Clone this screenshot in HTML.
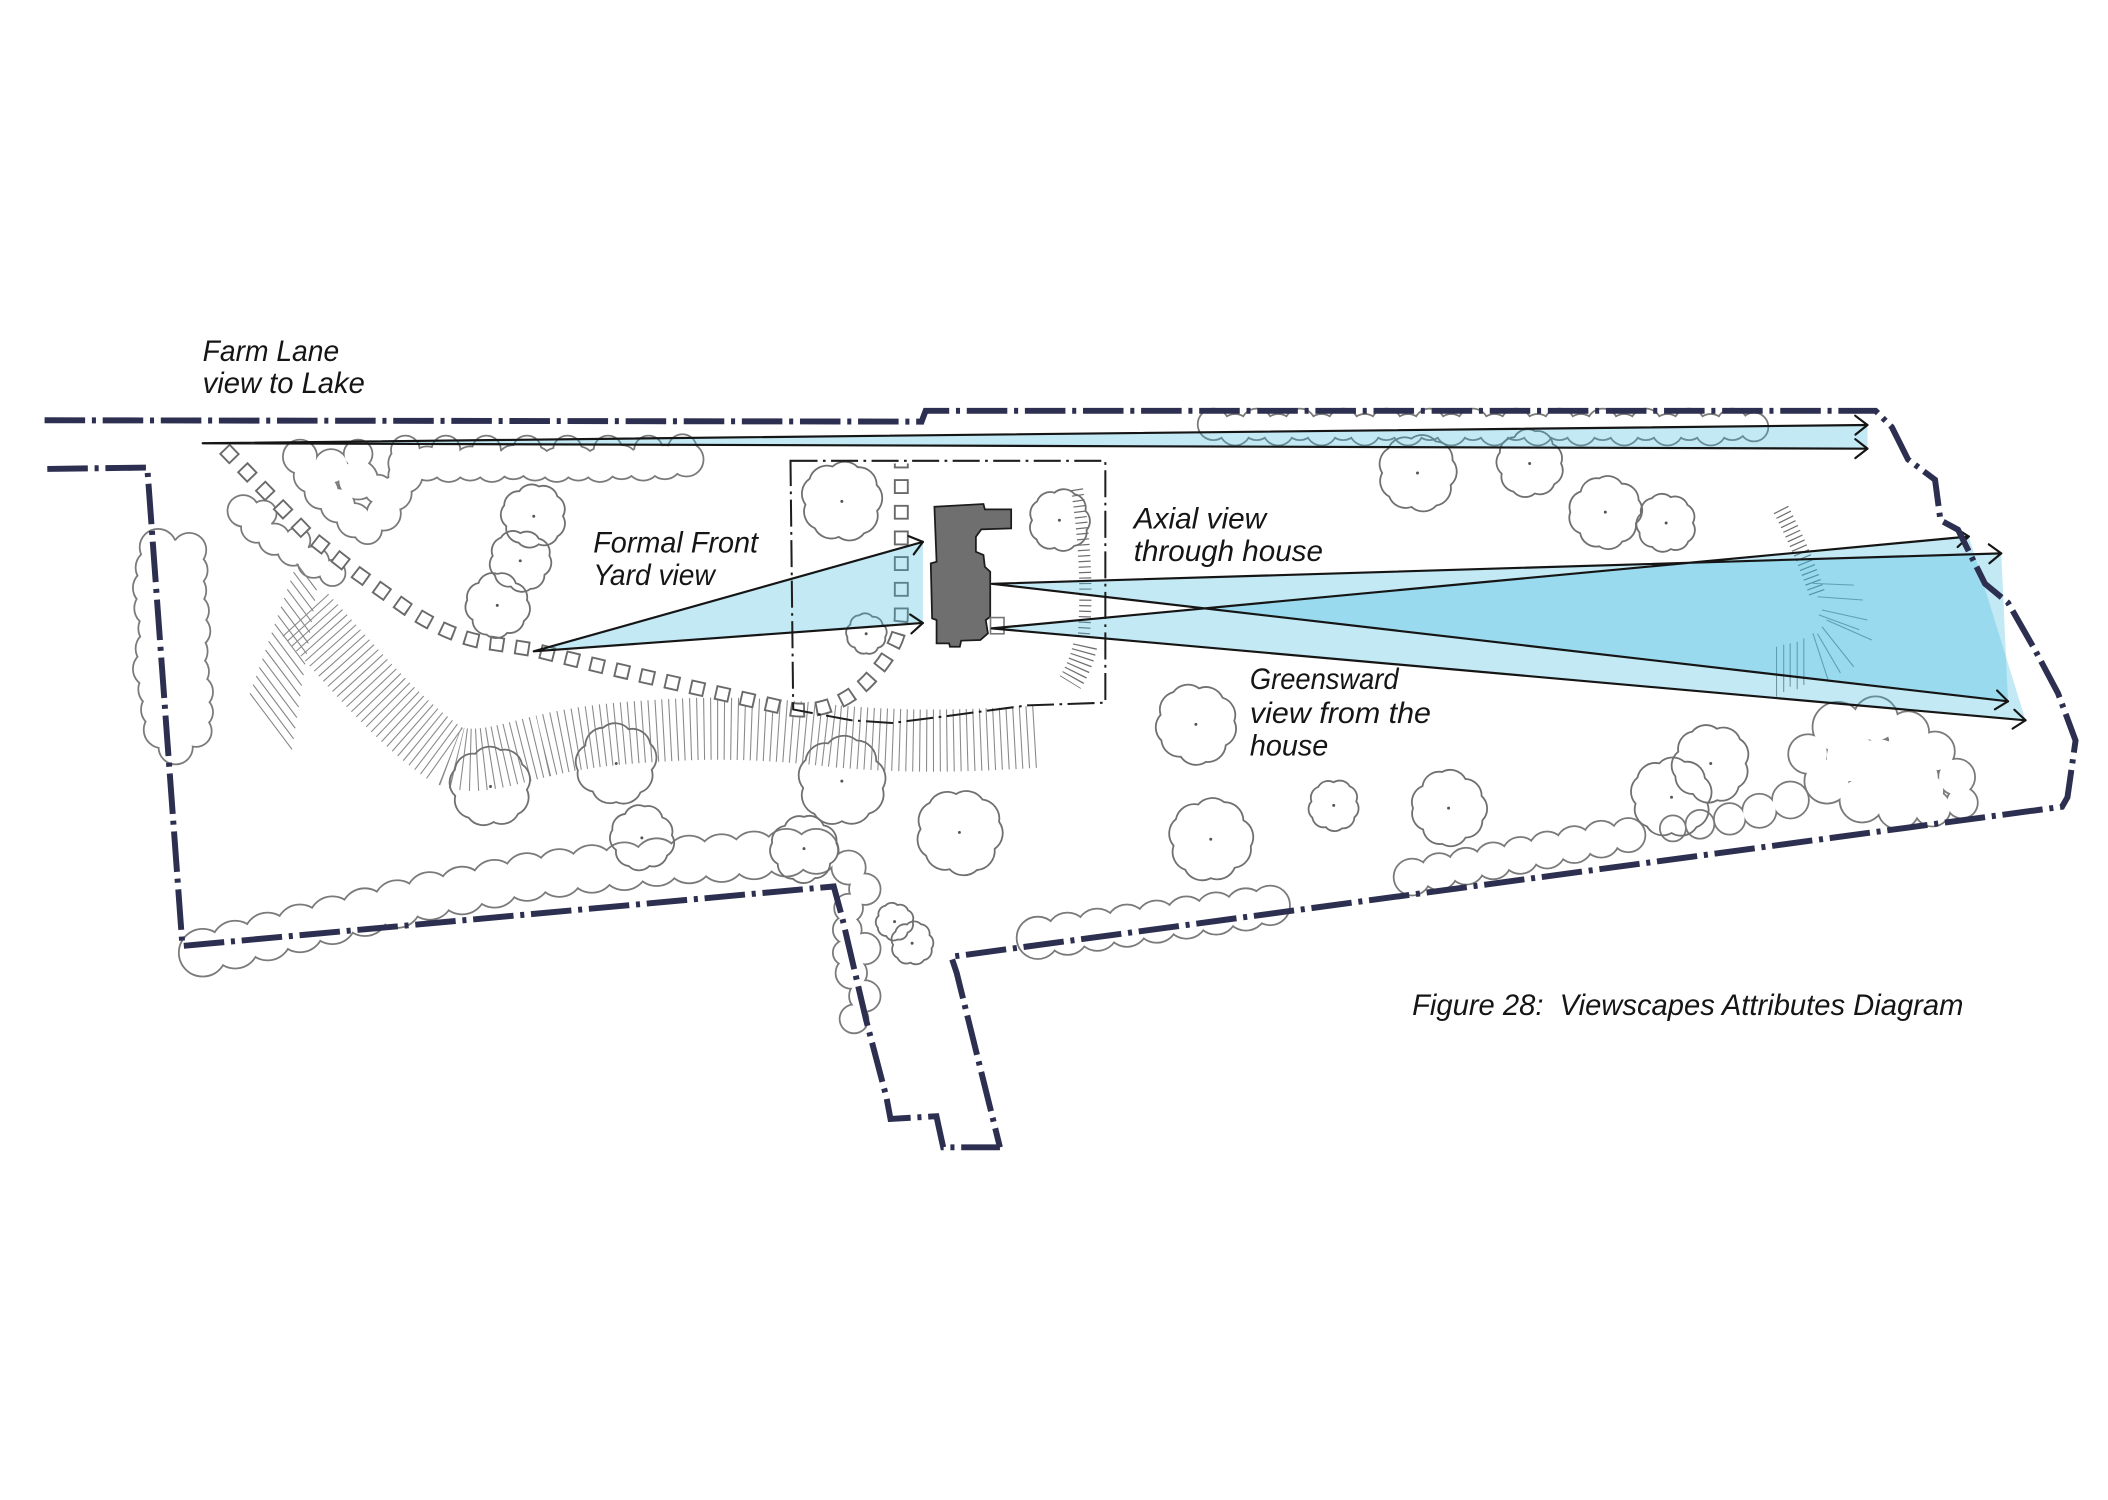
<!DOCTYPE html>
<html>
<head>
<meta charset="utf-8">
<style>
html,body{margin:0;padding:0;background:#fff;overflow:hidden;}
svg{display:block;}
</style>
</head>
<body>
<svg width="2108" height="1500" viewBox="0 0 1560 1110" preserveAspectRatio="none" xmlns="http://www.w3.org/2000/svg" xmlns:xlink="http://www.w3.org/1999/xlink">
<defs>
  <path id="tr" vector-effect="non-scaling-stroke" d="M9,0 A4.5,4.5 0 0 1 7.35,6.17 A4.5,4.5 0 0 1 1.53,8.67 A4.5,4.5 0 0 1 -4.7,8.14 A4.5,4.5 0 0 1 -8.46,3.08 A4.5,4.5 0 0 1 -9.12,-3.32 A4.5,4.5 0 0 1 -4.45,-7.71 A4.5,4.5 0 0 1 1.62,-9.16 A4.5,4.5 0 0 1 7.28,-6.11 A4.5,4.5 0 0 1 9,0 Z"/>
</defs>

<rect x="0" y="0" width="1560" height="1110" fill="#fff"/>

<!-- hedges pass 1: strokes -->
<g fill="none" stroke="#7a7a7a" stroke-width="2.6">
    <circle cx="300" cy="343" r="12"/><circle cx="316" cy="343" r="12"/><circle cx="332" cy="344" r="12"/>
    <circle cx="348" cy="343" r="12"/><circle cx="364" cy="344" r="12"/><circle cx="380" cy="342" r="12"/>
    <circle cx="396" cy="343" r="12"/><circle cx="412" cy="344" r="12"/><circle cx="428" cy="343" r="12"/>
    <circle cx="444" cy="344" r="12"/><circle cx="460" cy="342" r="12"/><circle cx="476" cy="343" r="12"/>
    <circle cx="492" cy="342" r="12"/><circle cx="508" cy="340" r="12"/>
    <circle cx="300" cy="333" r="10"/><circle cx="330" cy="333" r="10"/><circle cx="360" cy="333" r="10"/>
    <circle cx="390" cy="333" r="10"/><circle cx="420" cy="333" r="10"/><circle cx="450" cy="333" r="10"/>
    <circle cx="480" cy="333" r="10"/><circle cx="505" cy="332" r="10"/>
    <circle cx="222" cy="338" r="12"/><circle cx="230" cy="352" r="12"/><circle cx="238" cy="364" r="12"/>
    <circle cx="250" cy="374" r="12"/><circle cx="262" cy="385" r="12"/><circle cx="272" cy="392" r="10"/>
    <circle cx="284" cy="380" r="12"/><circle cx="292" cy="365" r="12"/><circle cx="300" cy="352" r="12"/>
    <circle cx="245" cy="345" r="12"/><circle cx="265" cy="355" r="14"/><circle cx="280" cy="362" r="10"/>
    <circle cx="265" cy="336" r="10"/>
    <circle cx="180" cy="378" r="11"/><circle cx="190" cy="390" r="11"/><circle cx="203" cy="399" r="11"/>
    <circle cx="217" cy="407" r="11"/><circle cx="232" cy="416" r="11"/><circle cx="246" cy="424" r="9"/>
    <circle cx="195" cy="380" r="9"/><circle cx="220" cy="400" r="9"/>
    <circle cx="117" cy="405" r="13"/><circle cx="140" cy="407" r="12"/>
    <circle cx="114" cy="420" r="13"/><circle cx="141" cy="422" r="12"/>
    <circle cx="112" cy="435" r="13"/><circle cx="139" cy="437" r="13"/>
    <circle cx="113" cy="450" r="13"/><circle cx="142" cy="452" r="12"/>
    <circle cx="116" cy="465" r="13"/><circle cx="143" cy="467" r="12"/>
    <circle cx="114" cy="480" r="13"/><circle cx="140" cy="482" r="13"/>
    <circle cx="112" cy="495" r="13"/><circle cx="142" cy="497" r="12"/>
    <circle cx="116" cy="510" r="13"/><circle cx="145" cy="512" r="12"/>
    <circle cx="118" cy="525" r="13"/><circle cx="146" cy="527" r="11"/>
    <circle cx="120" cy="540" r="13"/><circle cx="145" cy="541" r="11"/>
    <circle cx="130" cy="553" r="12"/>
    <circle cx="128" cy="412" r="12"/><circle cx="128" cy="428" r="12"/><circle cx="127" cy="444" r="12"/>
    <circle cx="128" cy="460" r="12"/><circle cx="128" cy="476" r="12"/><circle cx="127" cy="492" r="12"/>
    <circle cx="130" cy="508" r="12"/><circle cx="132" cy="524" r="12"/><circle cx="132" cy="540" r="12"/>
    <circle cx="150" cy="705" r="17"/><circle cx="174" cy="699" r="17"/><circle cx="198" cy="693" r="17"/>
    <circle cx="222" cy="687" r="17"/><circle cx="246" cy="681" r="17"/><circle cx="270" cy="675" r="17"/>
    <circle cx="294" cy="669" r="17"/><circle cx="318" cy="663" r="17"/><circle cx="342" cy="659" r="17"/>
    <circle cx="366" cy="654" r="17"/><circle cx="390" cy="649" r="17"/><circle cx="414" cy="646" r="17"/>
    <circle cx="438" cy="643" r="17"/><circle cx="462" cy="641" r="17"/><circle cx="486" cy="638" r="17"/>
    <circle cx="510" cy="636" r="17"/><circle cx="534" cy="635" r="17"/><circle cx="558" cy="633" r="17"/>
    <circle cx="582" cy="631" r="17"/><circle cx="604" cy="630" r="16"/>
    <circle cx="768" cy="694" r="15"/><circle cx="790" cy="691" r="15"/><circle cx="812" cy="688" r="15"/>
    <circle cx="834" cy="685" r="15"/><circle cx="856" cy="682" r="15"/><circle cx="878" cy="679" r="15"/>
    <circle cx="900" cy="676" r="15"/><circle cx="922" cy="673" r="15"/><circle cx="940" cy="670" r="14"/>
    <circle cx="1045" cy="649" r="13"/><circle cx="1065" cy="645" r="13"/><circle cx="1085" cy="641" r="13"/>
    <circle cx="1105" cy="637" r="13"/><circle cx="1125" cy="633" r="13"/><circle cx="1145" cy="629" r="13"/>
    <circle cx="1165" cy="625" r="13"/><circle cx="1185" cy="621" r="13"/><circle cx="1205" cy="618" r="12"/>
    <circle cx="1360" cy="538" r="18"/><circle cx="1388" cy="532" r="16"/><circle cx="1412" cy="542" r="15"/>
    <circle cx="1432" cy="556" r="14"/><circle cx="1448" cy="575" r="13"/><circle cx="1452" cy="594" r="11"/>
    <circle cx="1430" cy="598" r="13"/><circle cx="1405" cy="598" r="15"/><circle cx="1378" cy="592" r="16"/>
    <circle cx="1352" cy="578" r="16"/><circle cx="1338" cy="558" r="14"/><circle cx="1325" cy="592" r="13"/>
    <circle cx="1302" cy="600" r="12"/><circle cx="1280" cy="606" r="11"/><circle cx="1258" cy="610" r="10"/>
    <circle cx="1238" cy="613" r="9"/><circle cx="1390" cy="565" r="18"/><circle cx="1420" cy="575" r="14"/>
    <circle cx="1400" cy="575" r="20"/><circle cx="1370" cy="560" r="18"/><circle cx="1425" cy="585" r="13"/>
    <circle cx="1410" cy="555" r="14"/>
    <circle cx="898" cy="314" r="11"/><circle cx="914" cy="318" r="11"/><circle cx="930" cy="314" r="11"/>
    <circle cx="946" cy="318" r="11"/><circle cx="962" cy="314" r="11"/><circle cx="978" cy="318" r="11"/>
    <circle cx="994" cy="314" r="11"/><circle cx="1010" cy="318" r="11"/><circle cx="1026" cy="314" r="11"/>
    <circle cx="1042" cy="318" r="11"/><circle cx="1058" cy="314" r="11"/><circle cx="1074" cy="318" r="11"/>
    <circle cx="1090" cy="314" r="11"/><circle cx="1106" cy="318" r="11"/><circle cx="1122" cy="314" r="11"/>
    <circle cx="1138" cy="318" r="11"/><circle cx="1154" cy="314" r="11"/><circle cx="1170" cy="318" r="11"/>
    <circle cx="1186" cy="314" r="11"/><circle cx="1202" cy="318" r="11"/><circle cx="1218" cy="314" r="11"/>
    <circle cx="1234" cy="318" r="11"/><circle cx="1250" cy="314" r="11"/><circle cx="1266" cy="318" r="11"/>
    <circle cx="1282" cy="314" r="11"/><circle cx="1298" cy="316" r="10"/>
    <circle cx="628" cy="642" r="12"/><circle cx="640" cy="658" r="11"/><circle cx="628" cy="672" r="10"/>
    <circle cx="627" cy="688" r="10"/><circle cx="640" cy="702" r="11"/><circle cx="630" cy="720" r="11"/>
    <circle cx="640" cy="737" r="11"/><circle cx="632" cy="754" r="10"/><circle cx="626" cy="705" r="9"/>
</g>
<!-- hedges pass 2: white fills hide interior arcs -->
<g fill="#ffffff" stroke="none">
    <circle cx="300" cy="343" r="12"/><circle cx="316" cy="343" r="12"/><circle cx="332" cy="344" r="12"/>
    <circle cx="348" cy="343" r="12"/><circle cx="364" cy="344" r="12"/><circle cx="380" cy="342" r="12"/>
    <circle cx="396" cy="343" r="12"/><circle cx="412" cy="344" r="12"/><circle cx="428" cy="343" r="12"/>
    <circle cx="444" cy="344" r="12"/><circle cx="460" cy="342" r="12"/><circle cx="476" cy="343" r="12"/>
    <circle cx="492" cy="342" r="12"/><circle cx="508" cy="340" r="12"/>
    <circle cx="300" cy="333" r="10"/><circle cx="330" cy="333" r="10"/><circle cx="360" cy="333" r="10"/>
    <circle cx="390" cy="333" r="10"/><circle cx="420" cy="333" r="10"/><circle cx="450" cy="333" r="10"/>
    <circle cx="480" cy="333" r="10"/><circle cx="505" cy="332" r="10"/>
    <circle cx="222" cy="338" r="12"/><circle cx="230" cy="352" r="12"/><circle cx="238" cy="364" r="12"/>
    <circle cx="250" cy="374" r="12"/><circle cx="262" cy="385" r="12"/><circle cx="272" cy="392" r="10"/>
    <circle cx="284" cy="380" r="12"/><circle cx="292" cy="365" r="12"/><circle cx="300" cy="352" r="12"/>
    <circle cx="245" cy="345" r="12"/><circle cx="265" cy="355" r="14"/><circle cx="280" cy="362" r="10"/>
    <circle cx="265" cy="336" r="10"/>
    <circle cx="180" cy="378" r="11"/><circle cx="190" cy="390" r="11"/><circle cx="203" cy="399" r="11"/>
    <circle cx="217" cy="407" r="11"/><circle cx="232" cy="416" r="11"/><circle cx="246" cy="424" r="9"/>
    <circle cx="195" cy="380" r="9"/><circle cx="220" cy="400" r="9"/>
    <circle cx="117" cy="405" r="13"/><circle cx="140" cy="407" r="12"/>
    <circle cx="114" cy="420" r="13"/><circle cx="141" cy="422" r="12"/>
    <circle cx="112" cy="435" r="13"/><circle cx="139" cy="437" r="13"/>
    <circle cx="113" cy="450" r="13"/><circle cx="142" cy="452" r="12"/>
    <circle cx="116" cy="465" r="13"/><circle cx="143" cy="467" r="12"/>
    <circle cx="114" cy="480" r="13"/><circle cx="140" cy="482" r="13"/>
    <circle cx="112" cy="495" r="13"/><circle cx="142" cy="497" r="12"/>
    <circle cx="116" cy="510" r="13"/><circle cx="145" cy="512" r="12"/>
    <circle cx="118" cy="525" r="13"/><circle cx="146" cy="527" r="11"/>
    <circle cx="120" cy="540" r="13"/><circle cx="145" cy="541" r="11"/>
    <circle cx="130" cy="553" r="12"/>
    <circle cx="128" cy="412" r="12"/><circle cx="128" cy="428" r="12"/><circle cx="127" cy="444" r="12"/>
    <circle cx="128" cy="460" r="12"/><circle cx="128" cy="476" r="12"/><circle cx="127" cy="492" r="12"/>
    <circle cx="130" cy="508" r="12"/><circle cx="132" cy="524" r="12"/><circle cx="132" cy="540" r="12"/>
    <circle cx="150" cy="705" r="17"/><circle cx="174" cy="699" r="17"/><circle cx="198" cy="693" r="17"/>
    <circle cx="222" cy="687" r="17"/><circle cx="246" cy="681" r="17"/><circle cx="270" cy="675" r="17"/>
    <circle cx="294" cy="669" r="17"/><circle cx="318" cy="663" r="17"/><circle cx="342" cy="659" r="17"/>
    <circle cx="366" cy="654" r="17"/><circle cx="390" cy="649" r="17"/><circle cx="414" cy="646" r="17"/>
    <circle cx="438" cy="643" r="17"/><circle cx="462" cy="641" r="17"/><circle cx="486" cy="638" r="17"/>
    <circle cx="510" cy="636" r="17"/><circle cx="534" cy="635" r="17"/><circle cx="558" cy="633" r="17"/>
    <circle cx="582" cy="631" r="17"/><circle cx="604" cy="630" r="16"/>
    <circle cx="768" cy="694" r="15"/><circle cx="790" cy="691" r="15"/><circle cx="812" cy="688" r="15"/>
    <circle cx="834" cy="685" r="15"/><circle cx="856" cy="682" r="15"/><circle cx="878" cy="679" r="15"/>
    <circle cx="900" cy="676" r="15"/><circle cx="922" cy="673" r="15"/><circle cx="940" cy="670" r="14"/>
    <circle cx="1045" cy="649" r="13"/><circle cx="1065" cy="645" r="13"/><circle cx="1085" cy="641" r="13"/>
    <circle cx="1105" cy="637" r="13"/><circle cx="1125" cy="633" r="13"/><circle cx="1145" cy="629" r="13"/>
    <circle cx="1165" cy="625" r="13"/><circle cx="1185" cy="621" r="13"/><circle cx="1205" cy="618" r="12"/>
    <circle cx="1360" cy="538" r="18"/><circle cx="1388" cy="532" r="16"/><circle cx="1412" cy="542" r="15"/>
    <circle cx="1432" cy="556" r="14"/><circle cx="1448" cy="575" r="13"/><circle cx="1452" cy="594" r="11"/>
    <circle cx="1430" cy="598" r="13"/><circle cx="1405" cy="598" r="15"/><circle cx="1378" cy="592" r="16"/>
    <circle cx="1352" cy="578" r="16"/><circle cx="1338" cy="558" r="14"/><circle cx="1325" cy="592" r="13"/>
    <circle cx="1302" cy="600" r="12"/><circle cx="1280" cy="606" r="11"/><circle cx="1258" cy="610" r="10"/>
    <circle cx="1238" cy="613" r="9"/><circle cx="1390" cy="565" r="18"/><circle cx="1420" cy="575" r="14"/>
    <circle cx="1400" cy="575" r="20"/><circle cx="1370" cy="560" r="18"/><circle cx="1425" cy="585" r="13"/>
    <circle cx="1410" cy="555" r="14"/>
    <circle cx="898" cy="314" r="11"/><circle cx="914" cy="318" r="11"/><circle cx="930" cy="314" r="11"/>
    <circle cx="946" cy="318" r="11"/><circle cx="962" cy="314" r="11"/><circle cx="978" cy="318" r="11"/>
    <circle cx="994" cy="314" r="11"/><circle cx="1010" cy="318" r="11"/><circle cx="1026" cy="314" r="11"/>
    <circle cx="1042" cy="318" r="11"/><circle cx="1058" cy="314" r="11"/><circle cx="1074" cy="318" r="11"/>
    <circle cx="1090" cy="314" r="11"/><circle cx="1106" cy="318" r="11"/><circle cx="1122" cy="314" r="11"/>
    <circle cx="1138" cy="318" r="11"/><circle cx="1154" cy="314" r="11"/><circle cx="1170" cy="318" r="11"/>
    <circle cx="1186" cy="314" r="11"/><circle cx="1202" cy="318" r="11"/><circle cx="1218" cy="314" r="11"/>
    <circle cx="1234" cy="318" r="11"/><circle cx="1250" cy="314" r="11"/><circle cx="1266" cy="318" r="11"/>
    <circle cx="1282" cy="314" r="11"/><circle cx="1298" cy="316" r="10"/>
    <circle cx="628" cy="642" r="12"/><circle cx="640" cy="658" r="11"/><circle cx="628" cy="672" r="10"/>
    <circle cx="627" cy="688" r="10"/><circle cx="640" cy="702" r="11"/><circle cx="630" cy="720" r="11"/>
    <circle cx="640" cy="737" r="11"/><circle cx="632" cy="754" r="10"/><circle cx="626" cy="705" r="9"/>
</g>

<!-- slope hatching -->
<g stroke="#858585" stroke-width="0.8" fill="none">
  <path d="M219.5,416.9 l14.8,19.8 M217.2,423.3 l15.9,21.2 M214.9,429.7 l17,22.6 M212.6,436.1 l18.1,24.1 M210.3,442.6 l19.1,25.5 M208,449 l20.2,27 M205.7,455.4 l21.3,28.4 M203.4,461.8 l22.4,29.8 M201.1,468.2 l23.5,31.3 M198.8,474.6 l24.5,32.7 M196.5,481 l25.7,34.2 M194.2,487.4 l26.8,35.7 M191.9,493.9 l27.8,37.1 M189.6,500.3 l28.9,38.6 M187.3,506.7 l30,40 M185,513.1 l31.1,41.4"/>
  <path d="M1351.7,458.8 L1385.2,473.6 M1348.3,463.8 L1371.8,493.4 M1341.6,468.7 L1353.3,504.5 M1334.9,472.4 L1334.9,506.9 M1324.8,476.1 L1324.8,508.2 M1314.7,478.6 L1314.7,515.6 M1348.3,451.4 L1381.9,458.8 M1345,441.6 L1378.5,444 M1341.6,431.7 L1371.8,433 M1346,455 L1376,466 M1345,469 L1362,498 M1330,475 L1330,510 M1320,477 L1320,512"/>
</g>
<path d="M226,455 C260,492 290,530 330,558 C350,568 375,558 402,552 C430,545 460,542 501,540 C540,538 580,540 620,545 C680,550 720,548 770,545" fill="none" stroke="#8a8a8a" stroke-width="46" stroke-dasharray="0.8 4.2"/>
<path d="M1318,377 Q1334,408 1345,440" fill="none" stroke="#6e6e6e" stroke-width="12" stroke-dasharray="0.9 3"/>
<path d="M797,362 Q806,420 802,472" fill="none" stroke="#6e6e6e" stroke-width="9" stroke-dasharray="0.9 3.2"/>
<path d="M803,478 Q800,492 792,505" fill="none" stroke="#6e6e6e" stroke-width="18" stroke-dasharray="0.9 3.2"/>

<!-- stepping-stone squares -->
<path d="M166,332 L227,395 L264,424 L302,451 C325,466 345,474 364,476 L396,481 C450,495 520,510 577,523 C600,530 625,522 643,503 C657,488 667,472 667,455 L667,343" fill="none" stroke="#6a6a6a" stroke-width="11" stroke-dasharray="11 8"/>
<path d="M166,332 L227,395 L264,424 L302,451 C325,466 345,474 364,476 L396,481 C450,495 520,510 577,523 C600,530 625,522 643,503 C657,488 667,472 667,455 L667,343" fill="none" stroke="#fff" stroke-width="8.2" stroke-dasharray="8.2 10.8" stroke-dashoffset="-1.4"/>

<!-- trees -->
<g fill="none" stroke="#707070" stroke-width="1.8">
  <use xlink:href="#tr" transform="translate(395,382) scale(2.4)"/>
  <use xlink:href="#tr" transform="translate(385,415) rotate(30) scale(2.3)"/>
  <use xlink:href="#tr" transform="translate(368,448) rotate(70) scale(2.4)"/>
  <use xlink:href="#tr" transform="translate(623,371) rotate(15) scale(3.0)"/>
  <use xlink:href="#tr" transform="translate(641,469) rotate(50) scale(1.5)"/>
  <use xlink:href="#tr" transform="translate(784,385) rotate(100) scale(2.3)"/>
  <use xlink:href="#tr" transform="translate(1049,350) rotate(20) scale(2.9)"/>
  <use xlink:href="#tr" transform="translate(1132,343) rotate(80) scale(2.5)"/>
  <use xlink:href="#tr" transform="translate(1188,379) rotate(140) scale(2.7)"/>
  <use xlink:href="#tr" transform="translate(1233,387) rotate(200) scale(2.2)"/>
  <use xlink:href="#tr" transform="translate(885,536) rotate(35) scale(3.0)"/>
  <use xlink:href="#tr" transform="translate(987,596) rotate(110) scale(1.9)"/>
  <use xlink:href="#tr" transform="translate(1072,598) rotate(60) scale(2.8)"/>
  <use xlink:href="#tr" transform="translate(896,621) rotate(170) scale(3.1)"/>
  <use xlink:href="#tr" transform="translate(710,616) rotate(25) scale(3.2)"/>
  <use xlink:href="#tr" transform="translate(623,578) rotate(90) scale(3.3)"/>
  <use xlink:href="#tr" transform="translate(456,565) rotate(130) scale(3.0)"/>
  <use xlink:href="#tr" transform="translate(363,582) rotate(5) scale(3.0)"/>
  <use xlink:href="#tr" transform="translate(475,620) rotate(75) scale(2.4)"/>
  <use xlink:href="#tr" transform="translate(595,628) rotate(150) scale(2.5)"/>
  <use xlink:href="#tr" transform="translate(662,682) rotate(40) scale(1.4)"/>
  <use xlink:href="#tr" transform="translate(675,698) rotate(95) scale(1.6)"/>
  <use xlink:href="#tr" transform="translate(1237,590) rotate(10) scale(3.0)"/>
  <use xlink:href="#tr" transform="translate(1266,565) rotate(120) scale(2.9)"/>
</g>
<g fill="#555">
  <circle cx="395" cy="382" r="1.1"/><circle cx="385" cy="415" r="1.1"/><circle cx="368" cy="448" r="1.1"/>
  <circle cx="623" cy="371" r="1.1"/><circle cx="641" cy="469" r="1.1"/><circle cx="784" cy="385" r="1.1"/>
  <circle cx="1049" cy="350" r="1.1"/><circle cx="1132" cy="343" r="1.1"/><circle cx="1188" cy="379" r="1.1"/>
  <circle cx="1233" cy="387" r="1.1"/><circle cx="885" cy="536" r="1.1"/><circle cx="987" cy="596" r="1.1"/>
  <circle cx="1072" cy="598" r="1.1"/><circle cx="896" cy="621" r="1.1"/><circle cx="710" cy="616" r="1.1"/>
  <circle cx="623" cy="578" r="1.1"/><circle cx="456" cy="565" r="1.1"/><circle cx="363" cy="582" r="1.1"/>
  <circle cx="475" cy="620" r="1.1"/><circle cx="595" cy="628" r="1.1"/><circle cx="662" cy="682" r="1.1"/>
  <circle cx="675" cy="698" r="1.1"/><circle cx="1237" cy="590" r="1.1"/><circle cx="1266" cy="565" r="1.1"/>
</g>

<!-- blue view cones -->
<g fill="rgb(60,183,222)" fill-opacity="0.31">
  <polygon points="150,328 1382,314.5 1382,332"/>
  <polygon points="395,482 683,401 683,461"/>
  <polygon points="734,432 1481,409.5 1486,519"/>
  <polygon points="734,465 1457,397 1499,533"/>
</g>

<!-- front yard dash-dot frame -->
<path d="M585,341 L818,341 L818,520 L760,522 L700,530 L660,535 L630,533 L587,525 Z" fill="none" stroke="#1e1e1e" stroke-width="1.5" stroke-dasharray="20 4 2 4"/>

<!-- house -->
<polygon points="691.5,375 727.8,373 728.8,376.9 748.3,376.9 748.3,391 726.2,391.7 722.2,397.2 722.2,408.3 727.8,410.7 728.8,419.4 732.8,423.1 732.8,456.4 729.5,458.8 731.1,468.7 725.5,473.6 711.3,474.1 710.3,478.6 703,478.6 702.4,476.1 693.1,476.1 693.1,458.8 689.8,457.6 688.8,416.9 693.1,415.7" fill="#6f6f6f" stroke="#1c1c1c" stroke-width="1.3"/>
<rect x="733" y="457" width="10" height="12" fill="none" stroke="#777" stroke-width="1.2"/>

<!-- view lines and arrowheads -->
<g stroke="#151515" stroke-width="1.6" fill="none" stroke-linecap="round" stroke-linejoin="round">
  <path d="M150,328 L1382,314.5 M150,328 L1382,332"/>
  <path d="M395,482 L683,401 M395,482 L683,461"/>
  <path d="M734,432 L1481,409.5 M734,465 L1457,397 M734,432 L1486,519 M734,465 L1499,533"/>
  <path d="M1373.1,321.6 L1382,314.5 L1372.9,307.6"/>
  <path d="M1373,339 L1382,332 L1373,325"/>
  <path d="M676.2,410.2 L683,401 L672.4,396.7"/>
  <path d="M674.5,468.7 L683,461 L673.5,454.7"/>
  <path d="M1472.2,416.8 L1481,409.5 L1471.8,402.8"/>
  <path d="M1448.7,404.8 L1457,397 L1447.4,390.9"/>
  <path d="M1476.3,524.9 L1486,519 L1477.9,511"/>
  <path d="M1489.4,539.2 L1499,533 L1490.7,525.2"/>
</g>

<!-- property boundary -->
<g fill="none" stroke="#2d2f50" stroke-width="4.4" stroke-dasharray="30 5 3 5" stroke-linejoin="miter">
  <path d="M33,311 L682,312 L685,304 L1388,304 L1400,316 L1412,340 L1432,355 L1436,385 L1449,392 L1469,432 L1486,446 L1506,481 L1523,513 L1536,548 L1530,590 L1526,597 L704,708 L708,720 L740,849"/>
  <path d="M35,347 L109,346 L135,700 L617,656 L623,678 L641,755 L656,812 L659,828 L693,826 L698,849 L740,849"/>
</g>

<!-- labels -->
<g font-family="'Liberation Sans', Arial, sans-serif" font-style="italic" font-size="22" fill="#151515">
  <text x="150" y="267" textLength="101" lengthAdjust="spacingAndGlyphs">Farm Lane</text>
  <text x="150" y="291" textLength="120" lengthAdjust="spacingAndGlyphs">view to Lake</text>
  <text x="439" y="409" textLength="122" lengthAdjust="spacingAndGlyphs">Formal Front</text>
  <text x="439" y="433" textLength="90" lengthAdjust="spacingAndGlyphs">Yard view</text>
  <text x="839" y="391" textLength="98" lengthAdjust="spacingAndGlyphs">Axial view</text>
  <text x="839" y="415" textLength="140" lengthAdjust="spacingAndGlyphs">through house</text>
  <text x="925" y="510" textLength="110" lengthAdjust="spacingAndGlyphs">Greensward</text>
  <text x="925" y="535" textLength="134" lengthAdjust="spacingAndGlyphs">view from the</text>
  <text x="925" y="559" textLength="58" lengthAdjust="spacingAndGlyphs">house</text>
  <text x="1045" y="751" textLength="408" lengthAdjust="spacingAndGlyphs" xml:space="preserve">Figure 28:  Viewscapes Attributes Diagram</text>
</g>
</svg>
</body>
</html>
